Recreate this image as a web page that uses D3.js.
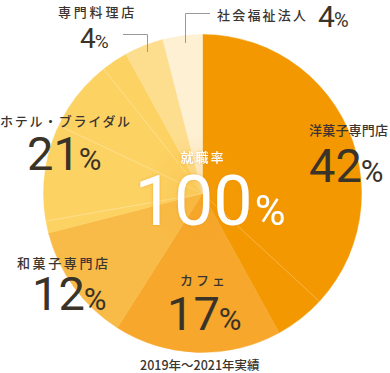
<!DOCTYPE html>
<html><head><meta charset="utf-8">
<script src="https://cdn.jsdelivr.net/npm/d3@7"></script>
<style>
html,body{margin:0;padding:0;background:#fff;}
svg{display:block;}
.lab{font-family:"Noto Sans CJK JP","Noto Sans",sans-serif;font-weight:500;fill:#3a3530;}
.num{font-family:Roboto,"Noto Sans",sans-serif;font-weight:400;fill:#3a3328;}
</style></head>
<body>
<svg id="c" width="390" height="373"></svg>
<script>
// ---- data ----
const categories = ["洋菓子専門店","カフェ","和菓子専門店","ホテル・ブライダル","専門料理店","社会福祉法人"];
const values = [42,17,12,21,4,4];
const sliceColors = ["#F39800","#F6A72C","#F9BB47","#FCD263","#FDDD8E","#FEF0D3"];
const totalLabel = "就職率";
const totalValue = 100;
const footnote = "2019年～2021年実績";
// decorative faint dividers inside slices (degrees, clockwise from top)
const dividerAngles = [132.7, 260, 295.3, 321.6];

// ---- layout ----
const W = 390, H = 373, cx = 202.5, cy = 193.5, R = 159;
const labelLayout = [
  {x:309, y:135, ls:0.2, nx:309, ny:182, big:47, small:31},
  {x:180, y:285, ls:3,   nx:167, ny:330, big:47, small:31},
  {x:17,  y:268, ls:2.6, nx:32,  ny:310, big:47, small:31},
  {x:0,   y:126, ls:1.7, nx:27,  ny:170, big:47, small:31},
  {x:58,  y:17,  ls:2.8, nx:80,  ny:48,  big:28, small:19},
  {x:217, y:20,  ls:2.2, nx:318, ny:27,  big:30, small:20}
];

const svg = d3.select("#c");
const defs = svg.append("defs");
const rg = defs.append("radialGradient").attr("id","glow");
rg.append("stop").attr("offset","0%").attr("stop-color","#F5A623").attr("stop-opacity",0.25);
rg.append("stop").attr("offset","100%").attr("stop-color","#F5A623").attr("stop-opacity",0);
const sh = defs.append("filter").attr("id","sh").attr("x","-20%").attr("y","-20%").attr("width","140%").attr("height","140%");
sh.append("feDropShadow").attr("dx",0).attr("dy",0).attr("stdDeviation",1.5)
  .attr("flood-color","#D98A00").attr("flood-opacity",0.45);

const g = svg.append("g").attr("transform",`translate(${cx},${cy})`);
const pie = d3.pie().sort(null).value(d=>d);
const arcs = pie(values);
const arc = d3.arc().innerRadius(0).outerRadius(R);

g.selectAll("path.s").data(arcs).join("path")
  .attr("class","s")
  .attr("d",arc)
  .attr("fill",(d,i)=>sliceColors[i])
  .attr("stroke",(d,i)=>sliceColors[i]).attr("stroke-width",0.5);

const rad = d3.scaleLinear().domain([0,360]).range([0,2*Math.PI]);
g.selectAll("line.div").data(dividerAngles).join("line")
  .attr("class","div")
  .attr("x1",0).attr("y1",0)
  .attr("x2",a=>R*Math.sin(rad(a))).attr("y2",a=>-R*Math.cos(rad(a)))
  .attr("stroke","#fff").attr("stroke-opacity",0.4).attr("stroke-width",0.7);

g.append("circle").attr("r",60).attr("fill","url(#glow)");

// center
svg.append("text").attr("class","lab").attr("x",203).attr("y",162)
  .attr("text-anchor","middle").attr("font-size",13).attr("letter-spacing",2)
  .attr("filter","url(#sh)")
  .style("fill","#fff").text(totalLabel);
const ct = svg.append("text").attr("class","num").attr("x",210).attr("y",225)
  .attr("text-anchor","middle").attr("filter","url(#sh)").style("fill","#fff");
ct.append("tspan").attr("font-size",70).text(totalValue);
ct.append("tspan").attr("font-size",42).attr("dx",2).text("%");

// labels
categories.forEach((c,i)=>{
  const L = labelLayout[i];
  svg.append("text").attr("class","lab").attr("x",L.x).attr("y",L.y)
    .attr("font-size",13).attr("letter-spacing",L.ls).text(c);
  const t = svg.append("text").attr("class","num").attr("x",L.nx).attr("y",L.ny);
  t.append("tspan").attr("font-size",L.big).text(values[i]);
  t.append("tspan").attr("font-size",L.small).attr("dx",-1).text("%");
});

// leader lines
const leader = d3.line();
svg.append("path").attr("d",leader([[123,34.5],[147.5,34.5],[147.5,52]]))
  .attr("fill","none").attr("stroke","#999").attr("stroke-width",1);
svg.append("path").attr("d",leader([[210,13.5],[185.5,13.5],[185.5,43]]))
  .attr("fill","none").attr("stroke","#999").attr("stroke-width",1);

// footnote
svg.append("text").attr("class","lab").attr("x",140).attr("y",369.5)
  .attr("font-size",12.5).attr("font-weight",400).text(footnote);
</script>
</body></html>
